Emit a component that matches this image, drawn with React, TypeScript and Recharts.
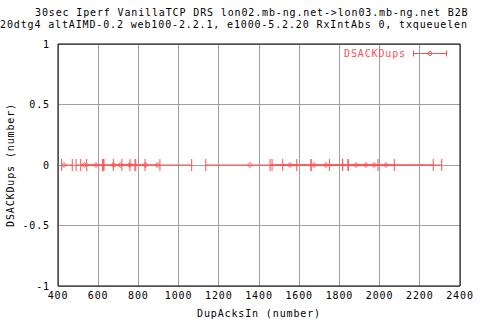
import { ScatterChart, Scatter, XAxis, YAxis, CartesianGrid, ErrorBar } from 'recharts';

// DupAcksIn (x), DSACKDups (y) with horizontal error bounds
const dupAcksIn = [430, 531, 589, 677, 710, 757, 834, 893, 1355, 1554, 1674, 1733, 1883, 1932, 1972, 2032];
const dsackDups = [0, 0, 0, 0, 0, 0, 0, 0, 0, 0, 0, 0, 0, 0, 0, 0];
const dupAcksLow = [418, 490, 513, 543, 625, 675, 758, 718, 1135, 1455, 1518, 1465, 1750, 1659, 1843, 1816];
const dupAcksHigh = [471, 622, 629, 787, 783, 833, 907, 1065, 1588, 1659, 1816, 1844, 1992, 2073, 2267, 2309];

const xTicks = [400, 600, 800, 1000, 1200, 1400, 1600, 1800, 2000, 2200, 2400];
const yTicks = [-1, -0.5, 0, 0.5, 1];

const titleLines = [
  '30sec Iperf VanillaTCP DRS lon02.mb-ng.net->lon03.mb-ng.net B2B',
  '20dtg4 altAIMD-0.2 web100-2.2.1, e1000-5.2.20 RxIntAbs 0, txqueuelen',
];
const seriesName = 'DSACKDups';

const RED = '#ff5050';
const FONT = '"DejaVu Sans Mono", monospace';
const FS = 10;
const LS = 0.86; // widen glyph advance to gnuplot's ~6.9px cell

const txt = { fontSize: FS, fontFamily: FONT, letterSpacing: LS };

const data = dupAcksIn.map((x, i) => ({
  x,
  y: dsackDups[i],
  err: [x - dupAcksLow[i], dupAcksHigh[i] - x],
}));

const Diamond = (props: any) => {
  const { cx, cy } = props;
  const r = 2.5;
  return (
    <polygon
      points={`${cx - r},${cy} ${cx},${cy - r} ${cx + r},${cy} ${cx},${cy + r}`}
      fill="none"
      stroke={RED}
      strokeWidth={1}
    />
  );
};

export default function App() {
  return (
    <div style={{ position: 'absolute', left: 0, top: 0 }}>
      <ScatterChart width={480} height={320} margin={{ top: 44, right: 20, bottom: 0, left: 0 }}>
        <CartesianGrid stroke="#a0a0a0" strokeWidth={1} shapeRendering="crispEdges" />
        <XAxis
          type="number"
          dataKey="x"
          domain={[400, 2400]}
          ticks={xTicks}
          height={34}
          tickLine={false}
          tickSize={6}
          tickMargin={0}
          axisLine={{ stroke: '#000' }}
          tick={{ ...txt, fill: '#000' }}
          interval={0}
        />
        <XAxis
          xAxisId="bottomTicks"
          type="number"
          domain={[400, 2400]}
          ticks={xTicks}
          orientation="bottom"
          mirror
          tick={false}
          tickSize={5}
          axisLine={false}
          tickLine={{ stroke: '#000' }}
        />
        <XAxis
          xAxisId="top"
          type="number"
          domain={[400, 2400]}
          ticks={xTicks}
          orientation="top"
          mirror
          tick={false}
          tickSize={5}
          axisLine={{ stroke: '#000' }}
          tickLine={{ stroke: '#000' }}
        />
        <YAxis
          type="number"
          dataKey="y"
          domain={[-1, 1]}
          ticks={yTicks}
          width={58}
          tickLine={false}
          tickSize={8}
          tickMargin={0}
          axisLine={{ stroke: '#000' }}
          tick={{ ...txt, fill: '#000' }}
          interval={0}
        />
        <YAxis
          yAxisId="leftTicks"
          type="number"
          domain={[-1, 1]}
          ticks={yTicks}
          orientation="left"
          mirror
          tick={false}
          tickSize={5}
          axisLine={false}
          tickLine={{ stroke: '#000' }}
        />
        <YAxis
          yAxisId="right"
          type="number"
          domain={[-1, 1]}
          ticks={yTicks}
          orientation="right"
          mirror
          tick={false}
          tickSize={5}
          axisLine={{ stroke: '#000' }}
          tickLine={{ stroke: '#000' }}
        />
        <Scatter data={data} shape={<Diamond />} isAnimationActive={false} name={seriesName}>
          <ErrorBar dataKey="err" direction="x" width={6} stroke={RED} strokeWidth={1} />
        </Scatter>

        {/* title */}
        <text x={35} y={16} {...txt} fill="#000">{titleLines[0]}</text>
        <text x={0} y={28} {...txt} fill="#000">{titleLines[1]}</text>

        {/* axis labels */}
        <text x={259} y={317} textAnchor="middle" {...txt} fill="#000">
          DupAcksIn (number)
        </text>
        <text
          x={14}
          y={165}
          textAnchor="middle"
          transform="rotate(-90 14 165)"
          {...txt}
          fill="#000"
        >
          DSACKDups (number)
        </text>

        {/* legend */}
        <g>
          <text x={406} y={57} textAnchor="end" {...txt} fill={RED}>{seriesName}</text>
          <line x1={413} y1={53.5} x2={447} y2={53.5} stroke={RED} />
          <line x1={413.5} y1={50.5} x2={413.5} y2={56.5} stroke={RED} />
          <line x1={446.5} y1={50.5} x2={446.5} y2={56.5} stroke={RED} />
          <polygon points="427.5,53.5 430,51 432.5,53.5 430,56" fill="none" stroke={RED} />
        </g>
      </ScatterChart>
    </div>
  );
}
